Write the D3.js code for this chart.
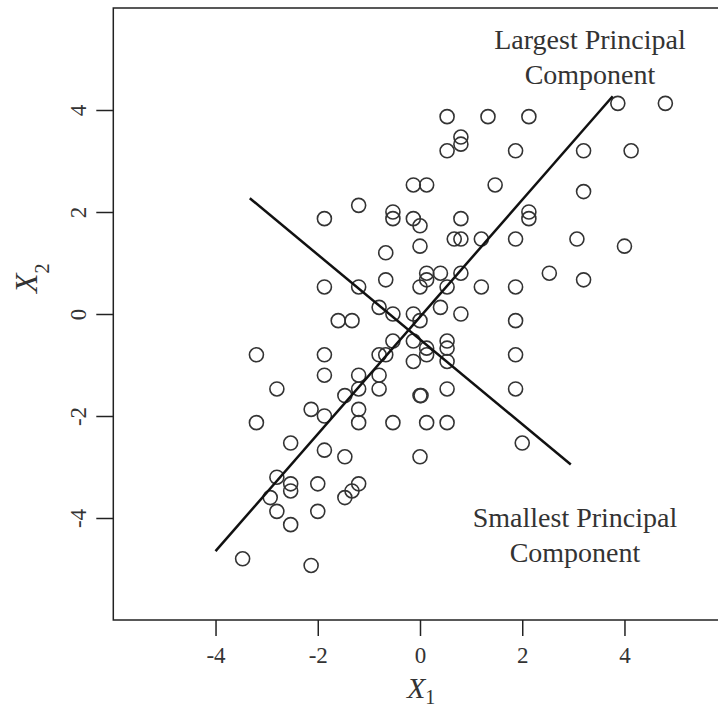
<!DOCTYPE html>
<html>
<head>
<meta charset="utf-8">
<script src="https://cdn.jsdelivr.net/npm/d3@7"></script>
<style>
  html, body { margin: 0; padding: 0; background: #fff; }
  svg { display: block; }
  svg text { font-family: "Liberation Serif", "DejaVu Serif", serif; }
  .pt { fill: none; stroke: #333; stroke-width: 1.6; }
  .pc { stroke: #111; stroke-width: 2.5; fill: none; }
  .tick-lab { font-size: 23px; fill: #333; }
  .note { font-size: 28px; fill: #333; text-anchor: middle; }
</style>
</head>
<body>
<svg id="chart" width="718" height="707"></svg>
<script>
const x1Values = [
  3.87, 4.8, 0.53, 1.33, 2.13, 0.8, 0.8, 0.53, 1.87, 3.2, 4.13,
  -0.13, 0.13, 1.47, 3.2, -1.2, -0.53, -0.53, 2.13, 2.13, -1.87, -0.13, 0.8,
  0, 0.67, 0.8, 1.2, 1.87, 3.07, 0, 4.0, -0.67,
  0.13, 0.4, 0.8, 2.53, -0.67, 0.13, 3.2,
  -1.87, -1.2, 0, 0.53, 1.2, 1.87, -0.8, 0.4, -0.53, -0.13, 0.8,
  -1.6, -1.33, 0, 1.87, -0.53, -0.13, 0.53, 0.13, 0.53,
  -3.2, -1.87, -0.8, -0.67, 0.13, 1.87, -0.13, 0.53,
  -1.87, -1.2, -0.8, -2.8, -1.2, -0.8, 0.53, 1.87,
  -1.47, 0, 0.02, -2.13, -1.2, -1.87,
  -3.2, -1.2, -0.53, 0.13, 0.53, -2.53, 2.0, -1.87, -1.47, 0,
  -2.8, -2.53, -2.0, -1.2, -2.53, -1.33, -2.93, -1.47, -2.8, -2.0,
  -2.53, -3.47, -2.13
];
const x2Values = [
  4.13, 4.13, 3.87, 3.87, 3.87, 3.47, 3.33, 3.2, 3.2, 3.2, 3.2,
  2.53, 2.53, 2.53, 2.4, 2.13, 2.0, 1.87, 2.0, 1.87, 1.87, 1.87, 1.87,
  1.73, 1.47, 1.47, 1.47, 1.47, 1.47, 1.33, 1.33, 1.2,
  0.8, 0.8, 0.8, 0.8, 0.67, 0.67, 0.67,
  0.53, 0.53, 0.53, 0.53, 0.53, 0.53, 0.13, 0.13, 0, 0, 0,
  -0.13, -0.13, -0.13, -0.13, -0.53, -0.53, -0.53, -0.67, -0.67,
  -0.8, -0.8, -0.8, -0.8, -0.8, -0.8, -0.93, -0.93,
  -1.2, -1.2, -1.2, -1.47, -1.47, -1.47, -1.47, -1.47,
  -1.6, -1.6, -1.6, -1.87, -1.87, -2.0,
  -2.13, -2.13, -2.13, -2.13, -2.13, -2.53, -2.53, -2.67, -2.8, -2.8,
  -3.2, -3.33, -3.33, -3.33, -3.47, -3.47, -3.6, -3.6, -3.87, -3.87,
  -4.13, -4.8, -4.93
];

// principal component segments: [start, end]
const largestPC = [[-4.0, -4.65], [3.77, 4.27]];
const smallestPC = [[-3.33, 2.27], [2.95, -2.95]];

const xTicks = [-4, -2, 0, 2, 4];
const yTicks = [-4, -2, 0, 2, 4];

const svg = d3.select('#chart');

const x = d3.scaleLinear().domain([-6, 6]).range([113.3, 726.7]);
const y = d3.scaleLinear().domain([-6, 6]).range([620, 8]);

const data = x1Values.map((v, i) => ({x1: v, x2: x2Values[i]}));

// frame
svg.append('rect')
  .attr('x', x(-6)).attr('y', y(6))
  .attr('width', x(6) - x(-6)).attr('height', y(-6) - y(6))
  .attr('fill', 'none').attr('stroke', '#222').attr('stroke-width', 1.5);

const fmt = d => d < 0 ? '-' + Math.abs(d) : String(d);

// x axis
const gx = svg.append('g')
  .attr('transform', 'translate(0,' + y(-6) + ')')
  .call(d3.axisBottom(x).tickValues(xTicks).tickSize(16).tickSizeOuter(0).tickFormat(fmt))
  .attr('font-family', null).attr('font-size', null);
gx.select('.domain').remove();
gx.selectAll('.tick line').attr('stroke', '#222').attr('stroke-width', 1.5);
gx.selectAll('.tick text')
  .attr('class', 'tick-lab')
  .attr('fill', null)
  .attr('y', 43).attr('dy', 0);

// y axis (labels turned like R)
const gy = svg.append('g')
  .attr('transform', 'translate(' + x(-6) + ',0)')
  .call(d3.axisLeft(y).tickValues(yTicks).tickSize(17).tickSizeOuter(0).tickFormat(fmt))
  .attr('font-family', null).attr('font-size', null);
gy.select('.domain').remove();
gy.selectAll('.tick line').attr('stroke', '#222').attr('stroke-width', 1.5);
gy.selectAll('.tick text').remove();
gy.selectAll('.tick').append('text')
  .attr('class', 'tick-lab')
  .attr('text-anchor', 'middle')
  .attr('transform', 'translate(-27,0) rotate(-90)')
  .text(fmt);

// points
svg.append('g').selectAll('circle')
  .data(data)
  .enter()
  .append('circle')
  .attr('class', 'pt')
  .attr('cx', d => x(d.x1))
  .attr('cy', d => y(d.x2))
  .attr('r', 7);

// component lines
const line = d3.line().x(d => x(d[0])).y(d => y(d[1]));
svg.append('path').attr('class', 'pc').attr('d', line(largestPC));
svg.append('path').attr('class', 'pc').attr('d', line(smallestPC));

// notes
const note = (cx, by, lines) => {
  lines.forEach((t, i) => {
    svg.append('text').attr('class', 'note')
      .attr('x', cx).attr('y', by + i * 35)
      .text(t);
  });
};
note(590, 49, ['Largest Principal', 'Component']);
note(575, 527, ['Smallest Principal', 'Component']);

// axis titles
const xLab = svg.append('text').attr('x', 407).attr('y', 698).attr('fill', '#333');
xLab.append('tspan').attr('font-style', 'italic').attr('font-size', 30).text('X');
xLab.append('tspan').attr('font-size', 20).attr('dy', 6).text('1');

const yLab = svg.append('text')
  .attr('transform', 'translate(37,293) rotate(-90)')
  .attr('fill', '#333');
yLab.append('tspan').attr('font-style', 'italic').attr('font-size', 32).text('X');
yLab.append('tspan').attr('font-size', 20).attr('dy', 12).text('2');
</script>
</body>
</html>
